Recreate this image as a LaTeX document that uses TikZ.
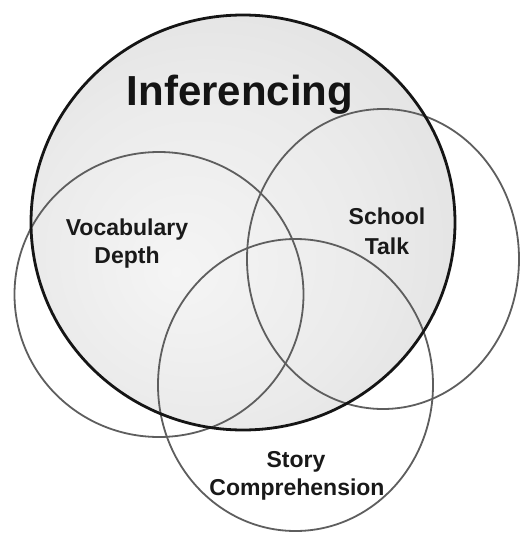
\documentclass[tikz,border=0pt]{standalone}
\usepackage{fontspec}
\setmainfont{Liberation Sans}
\definecolor{ringgray}{HTML}{5E5E5E}
\definecolor{ringdark}{HTML}{151515}
\pgfdeclareradialshading{bigfill}{\pgfpoint{-8bp}{-6bp}}{color(0bp)=(black!4); color(20bp)=(black!8); color(38bp)=(black!13); color(50bp)=(black!17)}
\begin{document}
\begin{tikzpicture}[x=1pt,y=-1pt,
  ring/.style={draw=ringgray,line width=1.8pt},
  bigring/.style={draw=ringdark,line width=2.8pt},
  label/.style={font=\bfseries\fontsize{23}{28}\selectfont,inner sep=0pt,anchor=base,text=black!90},
  title/.style={font=\bfseries\fontsize{42}{46}\selectfont,inner sep=0pt,anchor=base,text=black!92}]
\useasboundingbox (0,0) rectangle (520,536);
\fill[white] (0,0) rectangle (520,536);
% big circle fill
\shade[shading=bigfill] (243,222.5) ellipse [x radius=212pt, y radius=207.5pt];
% small circles
\draw[ring] (159,294.5) ellipse [x radius=144.5pt, y radius=142.5pt];
\draw[ring] (383,259) ellipse [x radius=136pt, y radius=150pt];
\draw[ring] (295.5,385) ellipse [x radius=137.5pt, y radius=146pt];
% big circle outline
\draw[bigring] (243,222.5) ellipse [x radius=212pt, y radius=207.5pt];
% texts
\node[title] (inf) at (240,105) {Inferencing};
\node[label] (voc1) at (127,235) {Vocabulary};
\node[label] (voc2) at (127,263) {Depth};
\node[label] (sch1) at (387,224) {School};
\node[label] (sch2) at (387,254) {Talk};
\node[label] (sto1) at (296,467) {Story};
\node[label] (sto2) at (297,495) {Comprehension};
\end{tikzpicture}
\end{document}
